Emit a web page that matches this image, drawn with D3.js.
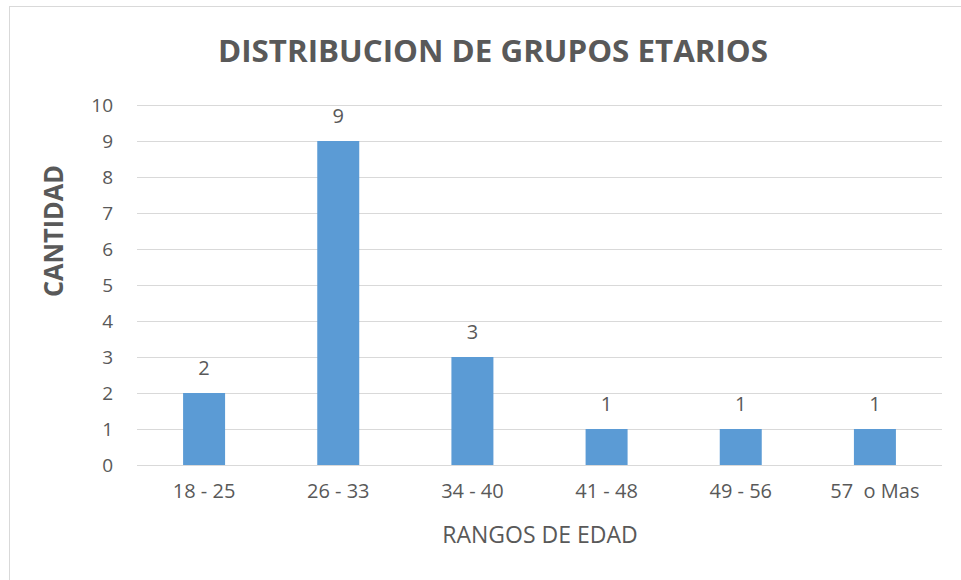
<!DOCTYPE html>
<html>
<head>
<meta charset="utf-8">
<script src="https://cdn.jsdelivr.net/npm/d3@7"></script>
<style>
  body { margin: 0; background: #fff; }
  text { font-family: "Open Sans", "Noto Sans", sans-serif; fill: #595959; white-space: pre; }
</style>
</head>
<body>
<svg width="961" height="580"></svg>
<script>
var categories = ["18 - 25", "26 - 33", "34 - 40", "41 - 48", "49 - 56", "57  o Mas"];
var values = [2, 9, 3, 1, 1, 1];
var yTicks = [0, 1, 2, 3, 4, 5, 6, 7, 8, 9, 10];

var svg = d3.select("svg"),
    width = +svg.attr("width"),
    height = +svg.attr("height");

var margin = {top: 105, right: 19, bottom: 115, left: 137};

// chart frame
svg.append("rect")
    .attr("x", 9.5).attr("y", 6.5)
    .attr("width", width).attr("height", height)
    .attr("fill", "none")
    .attr("stroke", "#d9d9d9");

var x = d3.scaleBand()
    .domain(categories)
    .range([margin.left, width - margin.right])
    .paddingInner(0.687)
    .paddingOuter(0.3435);

var y = d3.scaleLinear()
    .domain([0, 10])
    .range([height - margin.bottom, margin.top]);

// gridlines
svg.append("g")
    .selectAll("line")
    .data(yTicks)
    .enter().append("line")
    .attr("x1", margin.left)
    .attr("x2", width - margin.right)
    .attr("y1", function(d) { return Math.round(y(d)) + 0.5; })
    .attr("y2", function(d) { return Math.round(y(d)) + 0.5; })
    .attr("stroke", "#d9d9d9")
    .attr("stroke-width", 1);

// y axis labels
var yAxis = d3.axisLeft(y).tickValues(yTicks).tickSize(0).tickPadding(24);
svg.append("g")
    .attr("transform", "translate(" + margin.left + ",0)")
    .call(yAxis)
    .call(function(g) { g.select(".domain").remove(); })
    .selectAll("text")
    .style("font-family", "'Open Sans', sans-serif")
    .style("font-size", "19px")
    .attr("fill", "#595959");

// x axis labels
var xAxis = d3.axisBottom(x).tickSize(0).tickPadding(19);
svg.append("g")
    .attr("transform", "translate(0," + y(0) + ")")
    .call(xAxis)
    .call(function(g) { g.select(".domain").remove(); })
    .selectAll("text")
    .style("font-family", "'Open Sans', sans-serif")
    .style("font-size", "20px")
    .attr("fill", "#595959");

// bars
svg.append("g")
    .selectAll("rect")
    .data(values)
    .enter().append("rect")
    .attr("x", function(d, i) { return x(categories[i]); })
    .attr("width", x.bandwidth())
    .attr("y", function(d) { return y(d); })
    .attr("height", function(d) { return y(0) - y(d); })
    .attr("fill", "#5b9bd5");

// data labels
svg.append("g")
    .selectAll("text")
    .data(values)
    .enter().append("text")
    .attr("x", function(d, i) { return x(categories[i]) + x.bandwidth() / 2; })
    .attr("y", function(d) { return y(d) - 18; })
    .attr("text-anchor", "middle")
    .style("font-size", "20px")
    .text(function(d) { return d; });

// title
svg.append("text")
    .attr("x", 493)
    .attr("y", 62)
    .attr("text-anchor", "middle")
    .style("font-size", "30px")
    .style("font-weight", "bold")
    .attr("textLength", 550)
    .attr("lengthAdjust", "spacingAndGlyphs")
    .text("DISTRIBUCION DE GRUPOS ETARIOS");

// axis titles
svg.append("text")
    .attr("transform", "translate(63,231) rotate(-90)")
    .attr("text-anchor", "middle")
    .style("font-size", "26px")
    .style("font-weight", "bold")
    .attr("textLength", 132)
    .attr("lengthAdjust", "spacingAndGlyphs")
    .text("CANTIDAD");

svg.append("text")
    .attr("x", 540)
    .attr("y", 543)
    .attr("text-anchor", "middle")
    .style("font-size", "23px")
    .text("RANGOS DE EDAD");
</script>
</body>
</html>
